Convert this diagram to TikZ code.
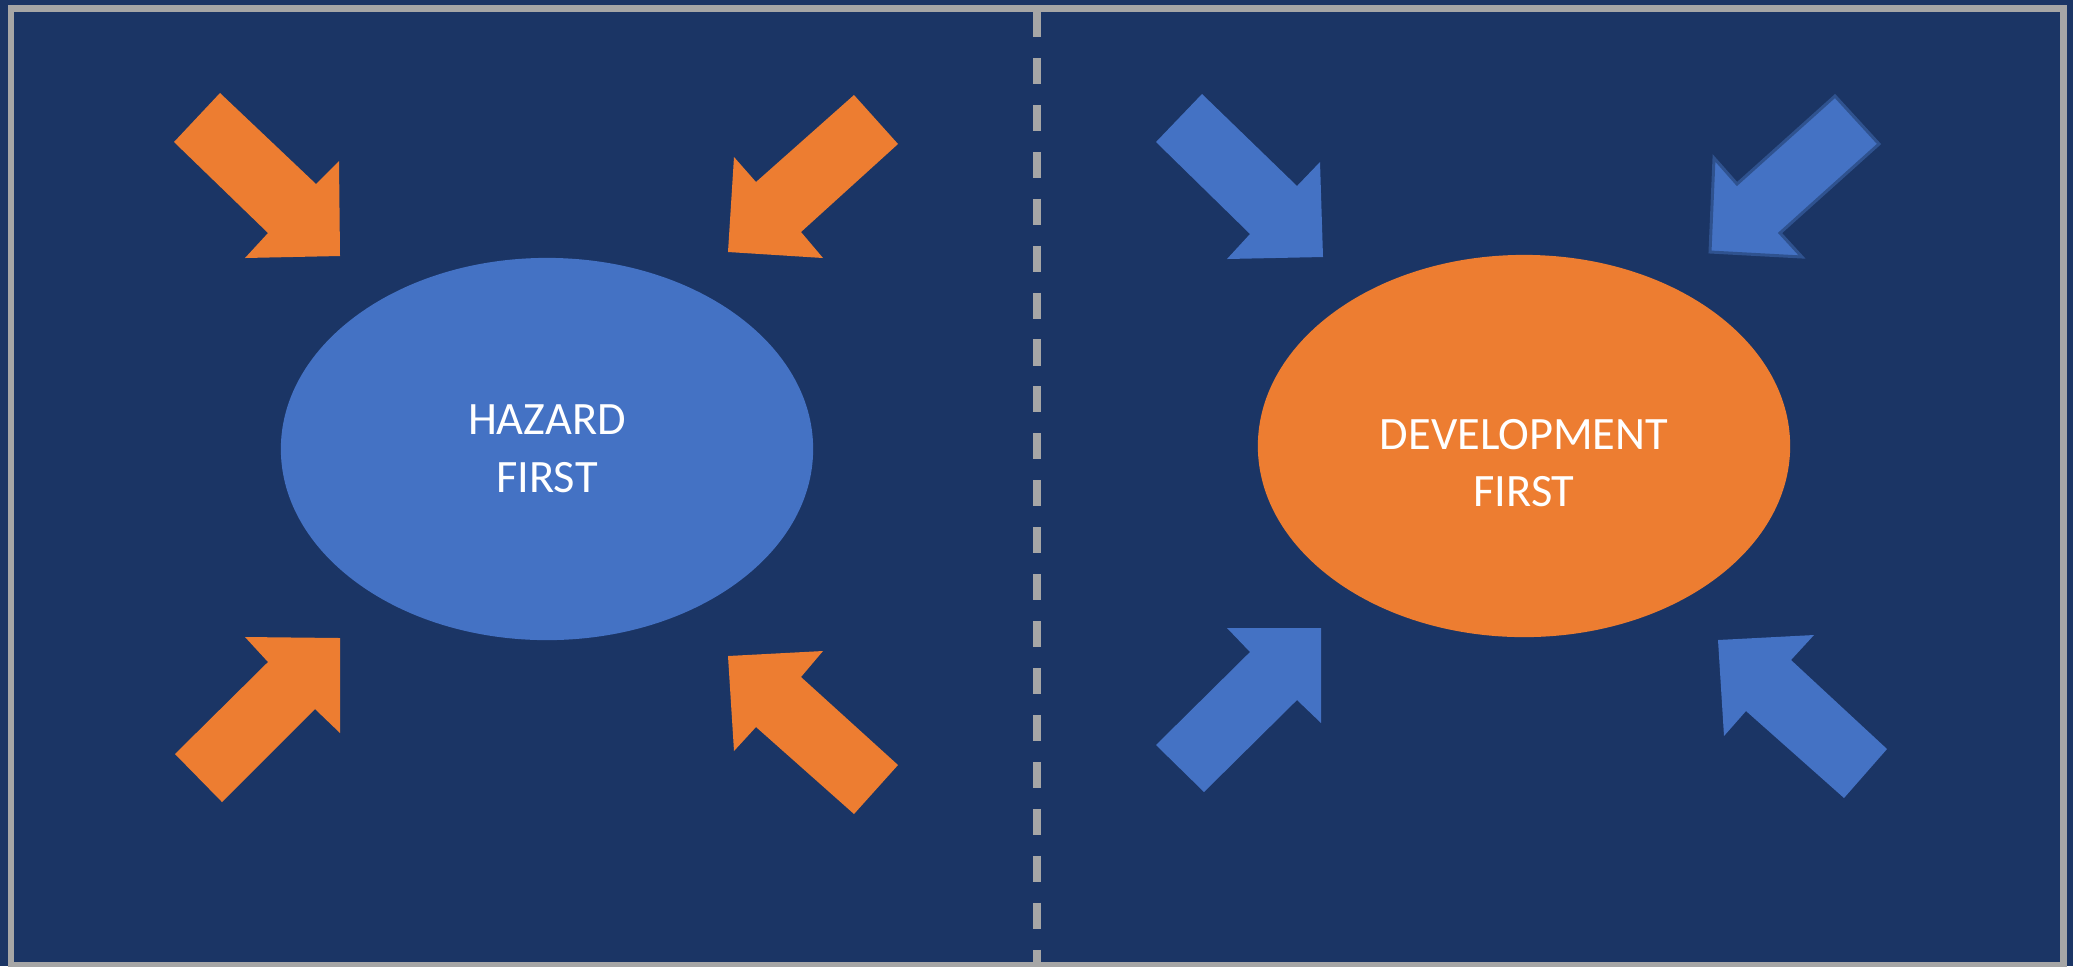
\documentclass[tikz,border=0pt]{standalone}
\usepackage{fontspec}
\setmainfont{Carlito}
\usetikzlibrary{shapes.geometric}

\definecolor{slate}{HTML}{1B3565}
\definecolor{ember}{HTML}{ED7D31}
\definecolor{cobalt}{HTML}{4472C4}
\definecolor{rim}{HTML}{2F528F}
\definecolor{frame}{HTML}{A6A6A6}

\begin{document}
\begin{tikzpicture}[x=0.01cm,y=-0.01cm,
   blob/.style={ellipse,inner sep=0pt,minimum width=5.32cm,minimum height=3.82cm},
   caption/.style={text=white,align=center,font=\fontsize{13.2}{16.4}\selectfont},
   hazardarrow/.style={fill=ember},
   devarrow/.style={fill=cobalt},
   border/.style={draw=frame,line width=0.065cm},
   divider/.style={draw=frame,line width=0.072cm,dash pattern=on 0.26cm off 0.209cm}]
\fill[slate] (0,0) rectangle (2073,966);
\useasboundingbox (0,0) rectangle (2073,966);
\draw[border] (11,8.5) rectangle (2063.5,965);
% split between the two halves
\coordinate (top) at (1037,11);
\coordinate (bottom) at (1037,970);
\draw[divider] (top) -- (bottom);

% left half
\node[blob,fill=cobalt] (hazard) at (547,449) {};
\node[caption] at ([yshift=0cm]hazard.center) {HAZARD\\FIRST};
\fill[hazardarrow] (220,93) -- (174,142) -- (268,233) -- (245,258) -- (340,256) -- (339,161) -- (316,184) -- cycle;
\fill[hazardarrow] (854,95) -- (898,144) -- (801,232) -- (823,258) -- (728,252) -- (734,157) -- (756,182) -- cycle;
\fill[hazardarrow] (175,754) -- (222,802) -- (315,709) -- (340,733) -- (340,638) -- (245,637) -- (268,662) -- cycle;
\fill[hazardarrow] (728,656) -- (823,651) -- (801,677) -- (898,765) -- (854,814) -- (756,727) -- (734,751) -- cycle;

% right half
\node[blob,fill=ember] (devel) at (1524,446) {};
\node[caption] at ([yshift=-0.17cm]devel.center) {DEVELOPMENT\\FIRST};
\fill[devarrow] (1202,94) -- (1156,142) -- (1250,234) -- (1227,259) -- (1323,257) -- (1320,162) -- (1297,186) -- cycle;
\filldraw[devarrow,draw=rim,line width=0.03cm] (1835,96) -- (1879,144) -- (1780,233) -- (1802,257) -- (1710,252) -- (1714,158) -- (1737,184) -- cycle;
\fill[devarrow] (1156,745) -- (1204,792) -- (1297,700) -- (1321,723) -- (1321,628) -- (1227,628) -- (1250,652) -- cycle;
\fill[devarrow] (1718,640) -- (1814,635) -- (1791,660) -- (1887,749) -- (1844,798) -- (1746,711) -- (1724,736) -- cycle;
\end{tikzpicture}
\end{document}
